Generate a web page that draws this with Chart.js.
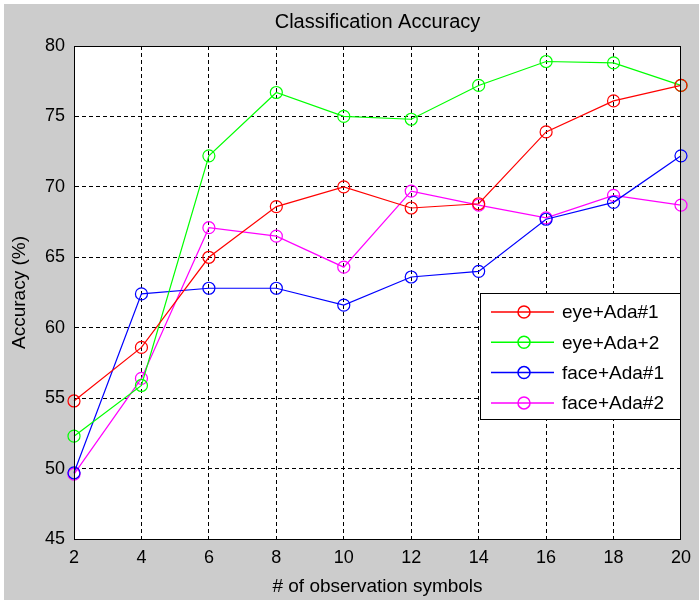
<!DOCTYPE html>
<html><head><meta charset="utf-8">
<script src="https://cdn.jsdelivr.net/npm/chart.js@4/dist/chart.umd.min.js"></script>
<style>html,body{margin:0;padding:0;background:#fff;overflow:hidden}#wrap{width:699px;height:605px;position:relative}</style>
</head><body><div id="wrap"><canvas id="c" width="699" height="605"></canvas></div>
<script>
const chartTitle = 'Classification Accuracy';
const xAxisTitle = '# of observation symbols';
const yAxisTitle = 'Accuracy (%)';
const symbolCounts = [2, 4, 6, 8, 10, 12, 14, 16, 18, 20];
const seriesLabels = ['eye+Ada#1', 'eye+Ada+2', 'face+Ada#1', 'face+Ada#2'];
const eyeAda1 = [54.8, 58.6, 65.0, 68.6, 70.0, 68.5, 68.8, 73.9, 76.1, 77.2];
const eyeAda2 = [52.3, 55.9, 72.2, 76.7, 75.0, 74.8, 77.2, 78.9, 78.8, 77.2];
const faceAda1 = [49.7, 62.4, 62.8, 62.8, 61.6, 63.6, 64.0, 67.7, 68.9, 72.2];
const faceAda2 = [49.6, 56.4, 67.1, 66.5, 64.3, 69.7, 68.7, 67.8, 69.4, 68.7];
const seriesColors = ['#ff0000', '#00ff00', '#0000ff', '#ff00ff'];
const xTickMin = 2, xTickMax = 20, xTickStep = 2;
const yTickMin = 45, yTickMax = 80, yTickStep = 5;

const FONT = "'Liberation Sans', Arial, sans-serif";
const allSeries = [eyeAda1, eyeAda2, faceAda1, faceAda2];

const datasets = allSeries.map((vals, i) => ({
  label: seriesLabels[i],
  data: symbolCounts.map((x, j) => ({x: x, y: vals[j]})),
  borderColor: seriesColors[i],
  backgroundColor: 'transparent',
  borderWidth: 1.2,
  pointStyle: 'circle',
  pointRadius: 6,
  pointBorderWidth: 1.2,
  pointBorderColor: seriesColors[i],
  pointBackgroundColor: 'transparent',
  tension: 0,
  clip: false
}));

const bgPlugin = {
  id: 'bg',
  beforeDraw(chart) {
    const ctx = chart.ctx, a = chart.chartArea;
    ctx.save();
    ctx.fillStyle = '#ffffff';
    ctx.fillRect(0, 0, chart.width, chart.height);
    ctx.fillStyle = '#cccccc';
    ctx.fillRect(4, 4, chart.width - 4, 596);
    ctx.fillStyle = '#ffffff';
    ctx.fillRect(a.left, a.top, a.right - a.left, a.bottom - a.top);
    ctx.restore();
  },
  afterDatasetsDraw(chart) {
    const ctx = chart.ctx, a = chart.chartArea;
    ctx.save();
    ctx.strokeStyle = '#000';
    ctx.lineWidth = 1;
    ctx.setLineDash([]);
    ctx.strokeRect(Math.round(a.left) + 0.5, Math.round(a.top) + 0.5, Math.round(a.right - a.left) - 1, Math.round(a.bottom - a.top));
    // legend
    const bw = 200, bh = 126;
    const bx = Math.round(a.right) - 1 - bw, by = 293;
    ctx.fillStyle = '#fff';
    ctx.fillRect(bx, by, bw, bh);
    ctx.strokeStyle = '#000';
    ctx.strokeRect(bx + 0.5, by + 0.5, bw, bh);
    ctx.font = '19px ' + FONT;
    ctx.textBaseline = 'middle';
    ctx.textAlign = 'left';
    chart.data.datasets.forEach((ds, i) => {
      const y = by + 19 + i * 30.3;
      ctx.strokeStyle = ds.borderColor;
      ctx.lineWidth = 1.5;
      ctx.beginPath();
      ctx.moveTo(bx + 11, y);
      ctx.lineTo(bx + 74, y);
      ctx.stroke();
      ctx.beginPath();
      ctx.arc(bx + 44, y, 6, 0, Math.PI * 2);
      ctx.stroke();
      ctx.fillStyle = '#000';
      ctx.fillText(ds.label, bx + 82, y + 1);
    });
    ctx.restore();
  }
};

new Chart(document.getElementById('c'), {
  type: 'line',
  data: {datasets: datasets},
  plugins: [bgPlugin],
  options: {
    responsive: false,
    devicePixelRatio: 1,
    animation: false,
    events: [],
    layout: {padding: {left: 0, right: 16, top: 0, bottom: 0}},
    plugins: {
      legend: {display: false},
      tooltip: {enabled: false},
      title: {
        display: true,
        text: chartTitle,
        fullSize: false,
        color: '#000',
        font: {family: FONT, size: 20, weight: 'normal'},
        padding: {top: 10, bottom: 12}
      }
    },
    scales: {
      x: {
        type: 'linear',
        min: xTickMin, max: xTickMax,
        afterFit(s) { s.height = 66; },
        ticks: {stepSize: xTickStep, color: '#000', font: {family: FONT, size: 18}, padding: 8, maxRotation: 0},
        grid: {color: '#000', lineWidth: 1, drawTicks: false},
        border: {display: true, color: '#000', dash: [4, 3]},
        title: {display: true, text: xAxisTitle, color: '#000', font: {family: FONT, size: 19}, padding: {top: 0, bottom: 7}}
      },
      y: {
        min: yTickMin, max: yTickMax,
        afterFit(s) { s.width = 74; },
        ticks: {stepSize: yTickStep, color: '#000', font: {family: FONT, size: 18}, padding: 9},
        grid: {color: '#000', lineWidth: 1, drawTicks: false},
        border: {display: true, color: '#000', dash: [4, 3]},
        title: {display: true, text: yAxisTitle, color: '#000', font: {family: FONT, size: 19}, padding: {top: 8, bottom: 0}}
      }
    }
  }
});
</script>
</body></html>
